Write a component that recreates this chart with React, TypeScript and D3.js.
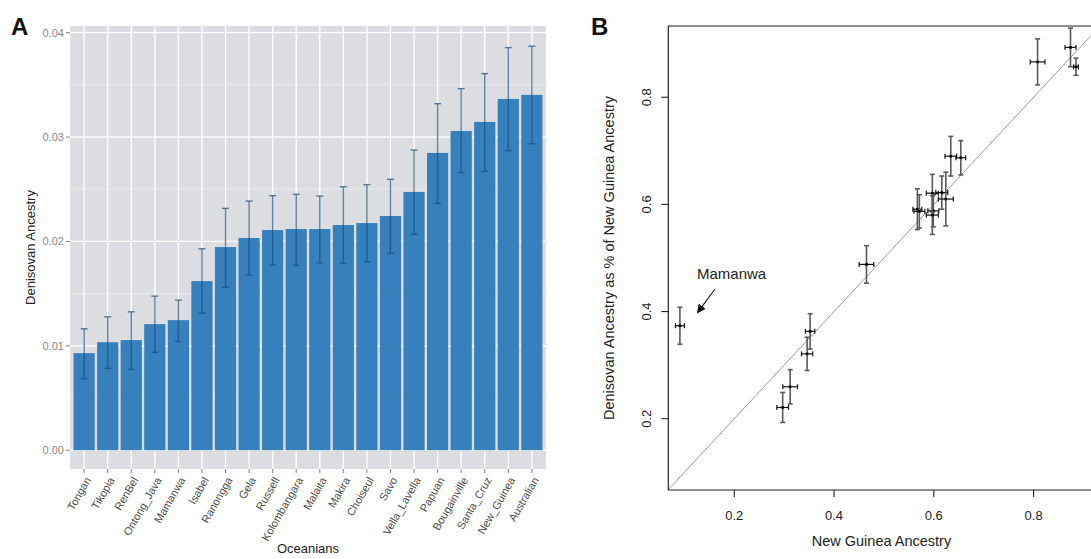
import React from "react";
import * as d3 from "d3";

// ---------- Panel A data ----------
const categories = ["Tongan","Tikopia","RenBel","Ontong_Java","Mamanwa","Isabel","Ranongga","Gela","Russell","Kolombangara","Malaita","Makira","Choiseul","Savo","Vella_Lavella","Papuan","Bougainville","Santa_Cruz","New_Guinea","Australian"];
const denisovan = [0.0093,0.01035,0.01055,0.01208,0.01246,0.0162,0.01946,0.02033,0.02109,0.02119,0.02119,0.02157,0.02176,0.02244,0.02474,0.02848,0.03058,0.03145,0.03365,0.03404];
const errHigh = [0.01163,0.01278,0.01326,0.01476,0.01438,0.0193,0.02317,0.02387,0.02438,0.02452,0.02435,0.02524,0.02544,0.02595,0.02876,0.0332,0.03464,0.03608,0.03857,0.03871];
const errLow = [0.00684,0.00783,0.00774,0.00937,0.01042,0.01313,0.0156,0.01678,0.01774,0.01771,0.01796,0.0179,0.01805,0.01886,0.02068,0.02365,0.02659,0.02672,0.0287,0.02937];
const yTicksA = [0, 0.01, 0.02, 0.03, 0.04];
const yMinorA = [0.005, 0.015, 0.025, 0.035];

// ---------- Panel B data ----------
const ngAncestry = [0.808,0.874,0.885,0.634,0.654,0.567,0.571,0.597,0.599,0.597,0.616,0.624,0.465,0.352,0.346,0.312,0.297,0.091];
const ngErr = [0.0147,0.011,0.0047,0.0117,0.0097,0.009,0.011,0.012,0.011,0.012,0.012,0.015,0.0147,0.0094,0.0113,0.0147,0.0117,0.009];
const denRatio = [0.866,0.893,0.857,0.690,0.687,0.591,0.587,0.621,0.588,0.580,0.622,0.610,0.488,0.363,0.321,0.2596,0.221,0.3735];
const denErr = [0.043,0.036,0.016,0.037,0.032,0.038,0.031,0.035,0.03,0.036,0.031,0.05,0.035,0.033,0.031,0.032,0.028,0.0345];
const ticksB = [0.2, 0.4, 0.6, 0.8];

const FONT = "'Liberation Sans', Arial, Helvetica, sans-serif";

export default function App() {
  // Panel A geometry
  const aL = 70, aR = 546, aT = 26, aB = 469;
  const xA = d3.scaleBand<string>().domain(categories).range([aL, aR]).paddingInner(0.1).paddingOuter(0.15);
  const yA = d3.scaleLinear().domain([-0.0018, 0.04064]).range([aB, aT]);
  const bw = xA.bandwidth();

  // Panel B geometry
  const bL = 668.3, bT = 26, bB = 490;
  const xB = d3.scaleLinear().domain([0.0677, 0.9223]).range([bL, 1094.6]);
  const yB = d3.scaleLinear().domain([0.0669, 0.933]).range([bB, bT]);
  const bR = xB(0.9223);
  const lineStart = Math.max(0.0677, 0.0669);
  const lineEnd = Math.min(0.9223, 0.933);

  return (
    <div style={{ position: "absolute", left: 0, top: 0 }}>
      <svg width={1091} height={559} style={{ display: "block", fontFamily: FONT }}>
        <defs>
          <clipPath id="clipB">
            <rect x={bL} y={bT} width={bR - bL} height={bB - bT} />
          </clipPath>
          <marker id="arrowHead" viewBox="0 0 10 10" refX="9" refY="5" markerWidth="9" markerHeight="9" orient="auto" markerUnits="userSpaceOnUse">
            <path d="M0,0 L10,5 L0,10 z" fill="#111" />
          </marker>
        </defs>

        {/* ---------------- Panel A ---------------- */}
        <text x={11} y={35} fontSize={24} fontWeight="bold" fill="#111">A</text>
        <rect x={aL} y={aT} width={aR - aL} height={aB - aT} fill="#dcdde0" />
        {yMinorA.map((t) => (
          <line key={"mn" + t} x1={aL} x2={aR} y1={yA(t)} y2={yA(t)} stroke="#ececee" strokeWidth={0.9} />
        ))}
        {yTicksA.map((t) => (
          <line key={"mj" + t} x1={aL} x2={aR} y1={yA(t)} y2={yA(t)} stroke="#ffffff" strokeWidth={1.3} />
        ))}
        {categories.map((c) => (
          <line key={"vg" + c} x1={xA(c)! + bw / 2} x2={xA(c)! + bw / 2} y1={aT} y2={aB} stroke="#ffffff" strokeWidth={1.3} />
        ))}
        {categories.map((c, i) => (
          <rect key={"bar" + c} x={xA(c)} y={yA(denisovan[i])} width={bw} height={yA(0) - yA(denisovan[i])} fill="#3680bd" />
        ))}
        {categories.map((c, i) => {
          const cx = xA(c)! + bw / 2;
          return (
            <g key={"eb" + c} stroke="#1e4f7e" strokeOpacity={0.7} strokeWidth={1.4}>
              <line x1={cx} x2={cx} y1={yA(errHigh[i])} y2={yA(errLow[i])} />
              <line x1={cx - 3.5} x2={cx + 3.5} y1={yA(errHigh[i])} y2={yA(errHigh[i])} />
              <line x1={cx - 3.5} x2={cx + 3.5} y1={yA(errLow[i])} y2={yA(errLow[i])} />
            </g>
          );
        })}
        {/* y axis ticks A */}
        {yTicksA.map((t) => (
          <g key={"yt" + t}>
            <line x1={aL - 4} x2={aL} y1={yA(t)} y2={yA(t)} stroke="#7f7f7f" strokeWidth={1} />
            <text x={aL - 6} y={yA(t)} dy="0.35em" textAnchor="end" fontSize={11} fill="#888">{d3.format(".2f")(t)}</text>
          </g>
        ))}
        {/* x axis ticks A */}
        {categories.map((c) => {
          const cx = xA(c)! + bw / 2;
          return (
            <g key={"xt" + c}>
              <line x1={cx} x2={cx} y1={aB} y2={aB + 4} stroke="#7f7f7f" strokeWidth={1} />
              <text transform={`translate(${cx + 4},${aB + 9}) rotate(-60)`} textAnchor="end" dy="0.35em" fontSize={11} fill="#4a4a4a">{c}</text>
            </g>
          );
        })}
        <text x={(aL + aR) / 2} y={553} textAnchor="middle" fontSize={13} fill="#222">Oceanians</text>
        <text transform={`translate(35,${(aT + aB) / 2}) rotate(-90)`} textAnchor="middle" fontSize={13} fill="#222">Denisovan Ancestry</text>

        {/* ---------------- Panel B ---------------- */}
        <text x={591} y={35} fontSize={24} fontWeight="bold" fill="#111">B</text>
        <g clipPath="url(#clipB)">
          <line x1={xB(lineStart)} y1={yB(lineStart)} x2={xB(lineEnd)} y2={yB(lineEnd)} stroke="#999" strokeWidth={1} />
        </g>
        {ngAncestry.map((xv, i) => {
          const px = xB(xv), py = yB(denRatio[i]);
          const y1 = yB(denRatio[i] + denErr[i]), y2 = yB(denRatio[i] - denErr[i]);
          const x1 = xB(xv - ngErr[i]), x2 = xB(xv + ngErr[i]);
          return (
            <g key={"pt" + i}>
              <g stroke="#5a5a5a" strokeWidth={1.6}>
                <line x1={px} x2={px} y1={y1} y2={y2} />
                <line x1={px - 2.5} x2={px + 2.5} y1={y1} y2={y1} />
                <line x1={px - 2.5} x2={px + 2.5} y1={y2} y2={y2} />
              </g>
              <g stroke="#111" strokeWidth={1.2}>
                <line x1={x1} x2={x2} y1={py} y2={py} />
                <line x1={x1} x2={x1} y1={py - 2.5} y2={py + 2.5} />
                <line x1={x2} x2={x2} y1={py - 2.5} y2={py + 2.5} />
              </g>
              <rect x={px - 1.3} y={py - 1.3} width={2.6} height={2.6} fill="#000" />
            </g>
          );
        })}
        {/* box */}
        <path d={`M${bR},${bT} H${bL} V${bB} H${bR} V${bT}`} fill="none" stroke="#222" strokeWidth={1.2} />
        {ticksB.map((t) => (
          <g key={"bx" + t}>
            <line x1={xB(t)} x2={xB(t)} y1={bB} y2={bB + 7} stroke="#222" strokeWidth={1.1} />
            <text x={xB(t)} y={520} textAnchor="middle" fontSize={13} fill="#222">{String(t)}</text>
          </g>
        ))}
        {ticksB.map((t) => (
          <g key={"by" + t}>
            <line x1={bL - 7} x2={bL} y1={yB(t)} y2={yB(t)} stroke="#222" strokeWidth={1.1} />
            <text transform={`translate(651,${yB(t)}) rotate(-90)`} textAnchor="middle" fontSize={13} fill="#222">{String(t)}</text>
          </g>
        ))}
        <text x={(bL + bR) / 2} y={546} textAnchor="middle" fontSize={14.5} fill="#222">New Guinea Ancestry</text>
        <text transform={`translate(614,${(bT + bB) / 2}) rotate(-90)`} textAnchor="middle" fontSize={14.5} fill="#222">Denisovan Ancestry as % of New Guinea Ancestry</text>
        <text x={697} y={279} fontSize={15} fill="#222">Mamanwa</text>
        <line x1={715} y1={289} x2={697.5} y2={312.7} stroke="#111" strokeWidth={1.1} markerEnd="url(#arrowHead)" />
      </svg>
    </div>
  );
}
